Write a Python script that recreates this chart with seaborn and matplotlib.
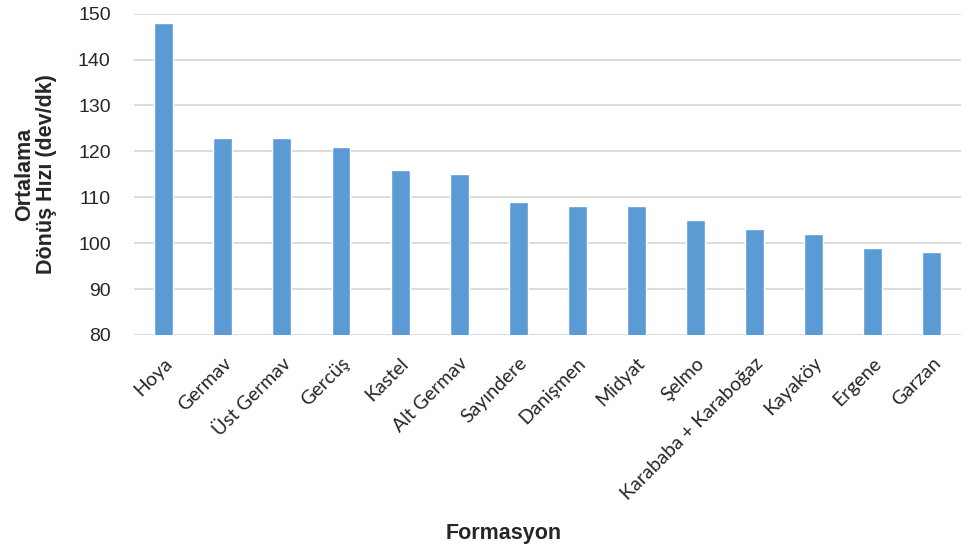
import pandas as pd
import matplotlib.pyplot as plt
import seaborn as sns

# Formation names and mean rotation speeds
formasyon = ["Hoya", "Germav", "Üst Germav", "Gercüş", "Kastel", "Alt Germav",
             "Sayındere", "Danişmen", "Midyat", "Şelmo", "Karababa + Karaboğaz",
             "Kayaköy", "Ergene", "Garzan"]
hiz = [148, 123, 123, 121, 116, 115, 109, 108, 108, 105, 103, 102, 99, 98]

df = pd.DataFrame({"Formasyon": formasyon, "Hiz": hiz})

sns.set_style("white")
plt.rcParams['font.family'] = ['Liberation Sans', 'DejaVu Sans']

fig = plt.figure(figsize=(9.66, 5.49), dpi=100)
ax = fig.add_axes([0.139, 0.39, 0.856, 0.585])

sns.barplot(data=df, x="Formasyon", y="Hiz", color="#5B9BD5", width=0.32,
            saturation=1, ax=ax, zorder=3)

ax.set_ylim(80, 150)
ax.set_yticks(range(80, 151, 10))
ax.yaxis.grid(True, color="#D9D9D9", linewidth=1.3, zorder=0)
ax.set_xlim(-0.5, len(formasyon) - 0.5)
for s in ax.spines.values():
    s.set_visible(False)
ax.tick_params(axis="both", length=0)
ax.tick_params(axis="y", labelsize=14, pad=17)

ax.set_xticks(range(len(formasyon)))
ax.set_xticklabels(formasyon, rotation=45, ha="right", rotation_mode="anchor",
                   fontsize=14, family=["Lato", "DejaVu Sans"])
ax.tick_params(axis="x", pad=14)

ax.set_xlabel("")
fig.text(0.521, 0.028, "Formasyon", fontsize=15.5, fontweight="bold",
         ha="center", va="center")
ax.set_ylabel("Ortalama\nDönüş Hızı (dev/dk)", fontsize=15.5, fontweight="bold",
              linespacing=1.05)
ax.yaxis.set_label_coords(-0.093, 0.5)

plt.savefig("out.png", dpi=100)
